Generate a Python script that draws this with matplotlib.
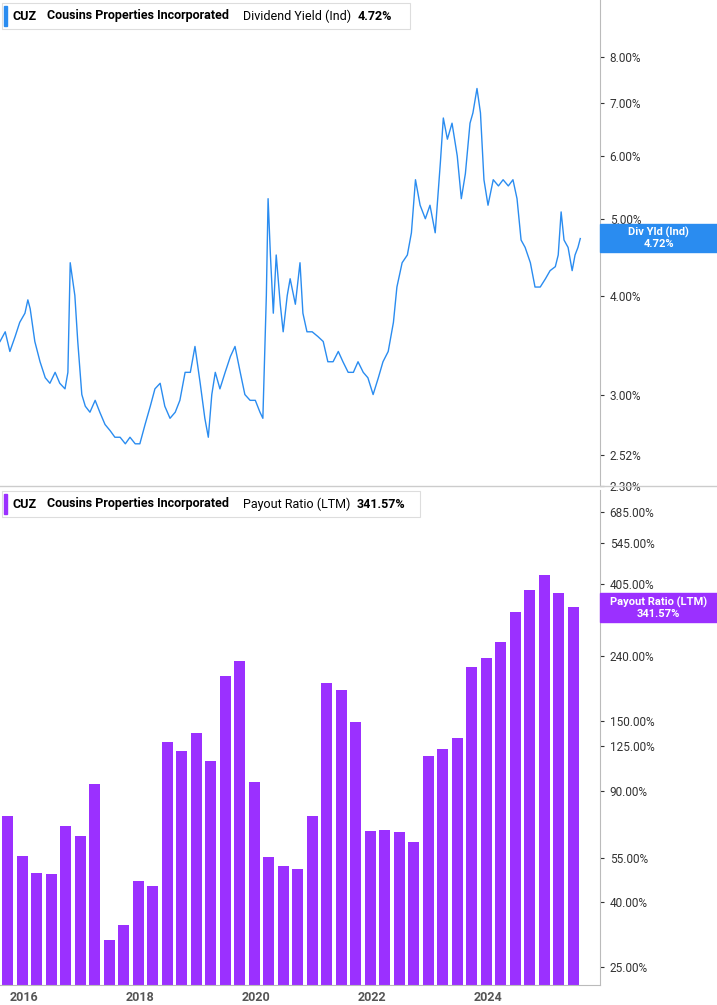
import numpy as np
from matplotlib import pyplot as plt
from matplotlib.ticker import FixedLocator, NullLocator

plt.rcParams['font.family'] = 'Roboto'

# dividend yield (%), decimal years
yld_t = [2015.59, 2015.68, 2015.76, 2015.85, 2015.93, 2016.02, 2016.07, 2016.11, 2016.19, 2016.28,
         2016.37, 2016.45, 2016.54, 2016.62, 2016.71, 2016.76, 2016.80, 2016.88, 2016.93, 2017.00,
         2017.06, 2017.14, 2017.23, 2017.31, 2017.40, 2017.49, 2017.57, 2017.66, 2017.75, 2017.83,
         2017.92, 2018.00, 2018.09, 2018.18, 2018.26, 2018.35, 2018.43, 2018.52, 2018.61, 2018.69,
         2018.78, 2018.87, 2018.95, 2019.04, 2019.12, 2019.18, 2019.24, 2019.30, 2019.38, 2019.47,
         2019.56, 2019.64, 2019.73, 2019.81, 2019.90, 2019.99, 2020.07, 2020.12, 2020.18, 2020.21,
         2020.25, 2020.30, 2020.35, 2020.42, 2020.47, 2020.54, 2020.59, 2020.68, 2020.76, 2020.81,
         2020.88, 2020.97, 2021.07, 2021.16, 2021.24, 2021.33, 2021.42, 2021.50, 2021.59, 2021.68,
         2021.76, 2021.85, 2021.93, 2022.02, 2022.11, 2022.19, 2022.28, 2022.37, 2022.43, 2022.52,
         2022.61, 2022.68, 2022.75, 2022.83, 2022.92, 2023.00, 2023.09, 2023.18, 2023.23, 2023.30,
         2023.38, 2023.47, 2023.54, 2023.61, 2023.69, 2023.74, 2023.81, 2023.87, 2023.93, 2024.00,
         2024.09, 2024.18, 2024.26, 2024.35, 2024.43, 2024.50, 2024.57, 2024.64, 2024.73, 2024.81,
         2024.90, 2024.99, 2025.07, 2025.16, 2025.21, 2025.26, 2025.31, 2025.38, 2025.45, 2025.50,
         2025.55, 2025.59]
yld_v = [3.5, 3.6, 3.4, 3.55, 3.7, 3.8, 3.95, 3.85, 3.5, 3.3,
         3.15, 3.1, 3.2, 3.1, 3.05, 3.2, 4.4, 4.0, 3.5, 3.0,
         2.9, 2.85, 2.95, 2.85, 2.75, 2.7, 2.65, 2.65, 2.6, 2.65,
         2.6, 2.6, 2.75, 2.9, 3.05, 3.1, 2.9, 2.8, 2.85, 2.95,
         3.2, 3.2, 3.45, 3.1, 2.8, 2.65, 3.0, 3.2, 3.05, 3.2,
         3.35, 3.45, 3.2, 3.0, 2.95, 2.95, 2.85, 2.8, 4.0, 5.3,
         4.5, 3.8, 4.5, 3.9, 3.6, 4.0, 4.2, 3.9, 4.4, 3.8,
         3.6, 3.6, 3.55, 3.5, 3.3, 3.3, 3.4, 3.3, 3.2, 3.2,
         3.3, 3.2, 3.15, 3.0, 3.15, 3.3, 3.4, 3.7, 4.1, 4.4,
         4.5, 4.8, 5.6, 5.2, 5.0, 5.2, 4.8, 5.9, 6.7, 6.3,
         6.6, 6.0, 5.3, 5.7, 6.6, 6.8, 7.3, 6.8, 5.6, 5.2,
         5.6, 5.5, 5.6, 5.5, 5.6, 5.3, 4.7, 4.6, 4.4, 4.1,
         4.1, 4.2, 4.3, 4.35, 4.5, 5.1, 4.7, 4.6, 4.3, 4.5,
         4.6, 4.72]

# payout ratio (LTM, %), quarterly from 2015 Q3
pay_t = 2015.72 + 0.25 * np.arange(40)
pay_v = [74, 55, 48.5, 48, 68.5, 63.6, 93.7, 29.3, 33, 45.8,
         44, 127, 119, 136, 111, 206, 230, 95, 54.6, 51,
         50, 74, 196, 187, 148, 66, 66.5, 65.5, 61, 115,
         121, 131, 221, 235, 264, 331, 386, 431, 380, 341.57]

yld_ticks = [2.30, 2.52, 3.0, 4.0, 5.0, 6.0, 7.0, 8.0]
pay_ticks = [25, 40, 55, 90, 125, 150, 240, 405, 545, 685]
years = [2016, 2018, 2020, 2022, 2024]

blue = '#2a8cf0'
purple = '#9b30ff'
W, H = 717, 1005
fig = plt.figure(figsize=(W / 100, H / 100), dpi=100)
pw = 600 / W

ax1 = fig.add_axes([0, 1 - 486 / H, pw, 486 / H])
ax1.plot(yld_t, yld_v, color=blue, lw=1)
ax1.set_yscale('log')
ax1.set_ylim(2.30, 9.44)
ax1.set_xlim(2015.59, 2025.93)

ax2 = fig.add_axes([0, 1 - 985 / H, pw, 495 / H])
ax2.bar(pay_t, pay_v, width=0.19, color=purple, bottom=1)
ax2.set_yscale('log')
ax2.set_ylim(21.9, 804)
ax2.set_xlim(2015.59, 2025.93)

for ax, ticks in [(ax1, yld_ticks), (ax2, pay_ticks)]:
    ax.yaxis.tick_right()
    ax.yaxis.set_major_locator(FixedLocator(ticks))
    ax.yaxis.set_minor_locator(NullLocator())
    ax.set_yticklabels(['%.2f%%' % t for t in ticks])
    ax.tick_params(axis='y', length=3, labelsize=8.5, colors='#333333', pad=4)
    for s in ['top', 'left', 'bottom']:
        ax.spines[s].set_visible(False)
    ax.spines['right'].set_color('#bbbbbb')
ax1.set_xticks([])
ax2.set_xticks(years)
ax2.set_xticklabels([str(y) for y in years])
ax2.tick_params(axis='x', length=0, labelsize=9, colors='#555555', pad=4)
ax2.spines['bottom'].set_visible(True)
ax2.spines['bottom'].set_color('#bbbbbb')
for lab in ax2.get_xticklabels():
    lab.set_fontweight('bold')

# separator line
fig.add_artist(plt.Line2D([0, 1], [1 - 486 / H, 1 - 486 / H], color='#cccccc', lw=1))

# header legends
def header(y, color, name, value, value_x, box_w):
    ypos = 1 - y / H
    fig.add_artist(plt.Rectangle((2 / W, ypos - 13 / H), box_w / W, 26 / H, facecolor='white',
                                 edgecolor='#dddddd', lw=0.8))
    fig.add_artist(plt.Rectangle((4 / W, ypos - 10 / H), 3 / W, 20 / H, color=color))
    fig.text(13 / W, ypos, 'CUZ', fontsize=9, fontweight='bold', va='center')
    fig.text(47 / W, ypos, 'Cousins Properties Incorporated', fontsize=9, fontweight='bold', va='center')
    fig.text(243 / W, ypos, name, fontsize=9, va='center')
    fig.text(value_x / W, ypos, value, fontsize=9, fontweight='bold', va='center')

header(16, blue, 'Dividend Yield (Ind)', '4.72%', 358, 408)
header(504, purple, 'Payout Ratio (LTM)', '341.57%', 357, 418)

# right-side value boxes
def badge(y0, y1, color, text):
    fig.add_artist(plt.Rectangle((pw, 1 - y1 / H), 1 - pw, (y1 - y0) / H, color=color))
    fig.text((pw + 1) / 2, 1 - (y0 + y1) / 2 / H, text, color='white', fontsize=8,
             fontweight='bold', ha='center', va='center', linespacing=1.1)

badge(224, 252, blue, 'Div Yld (Ind)\n4.72%')
badge(593, 622, purple, 'Payout Ratio (LTM)\n341.57%')

plt.savefig('out.png', dpi=100)
